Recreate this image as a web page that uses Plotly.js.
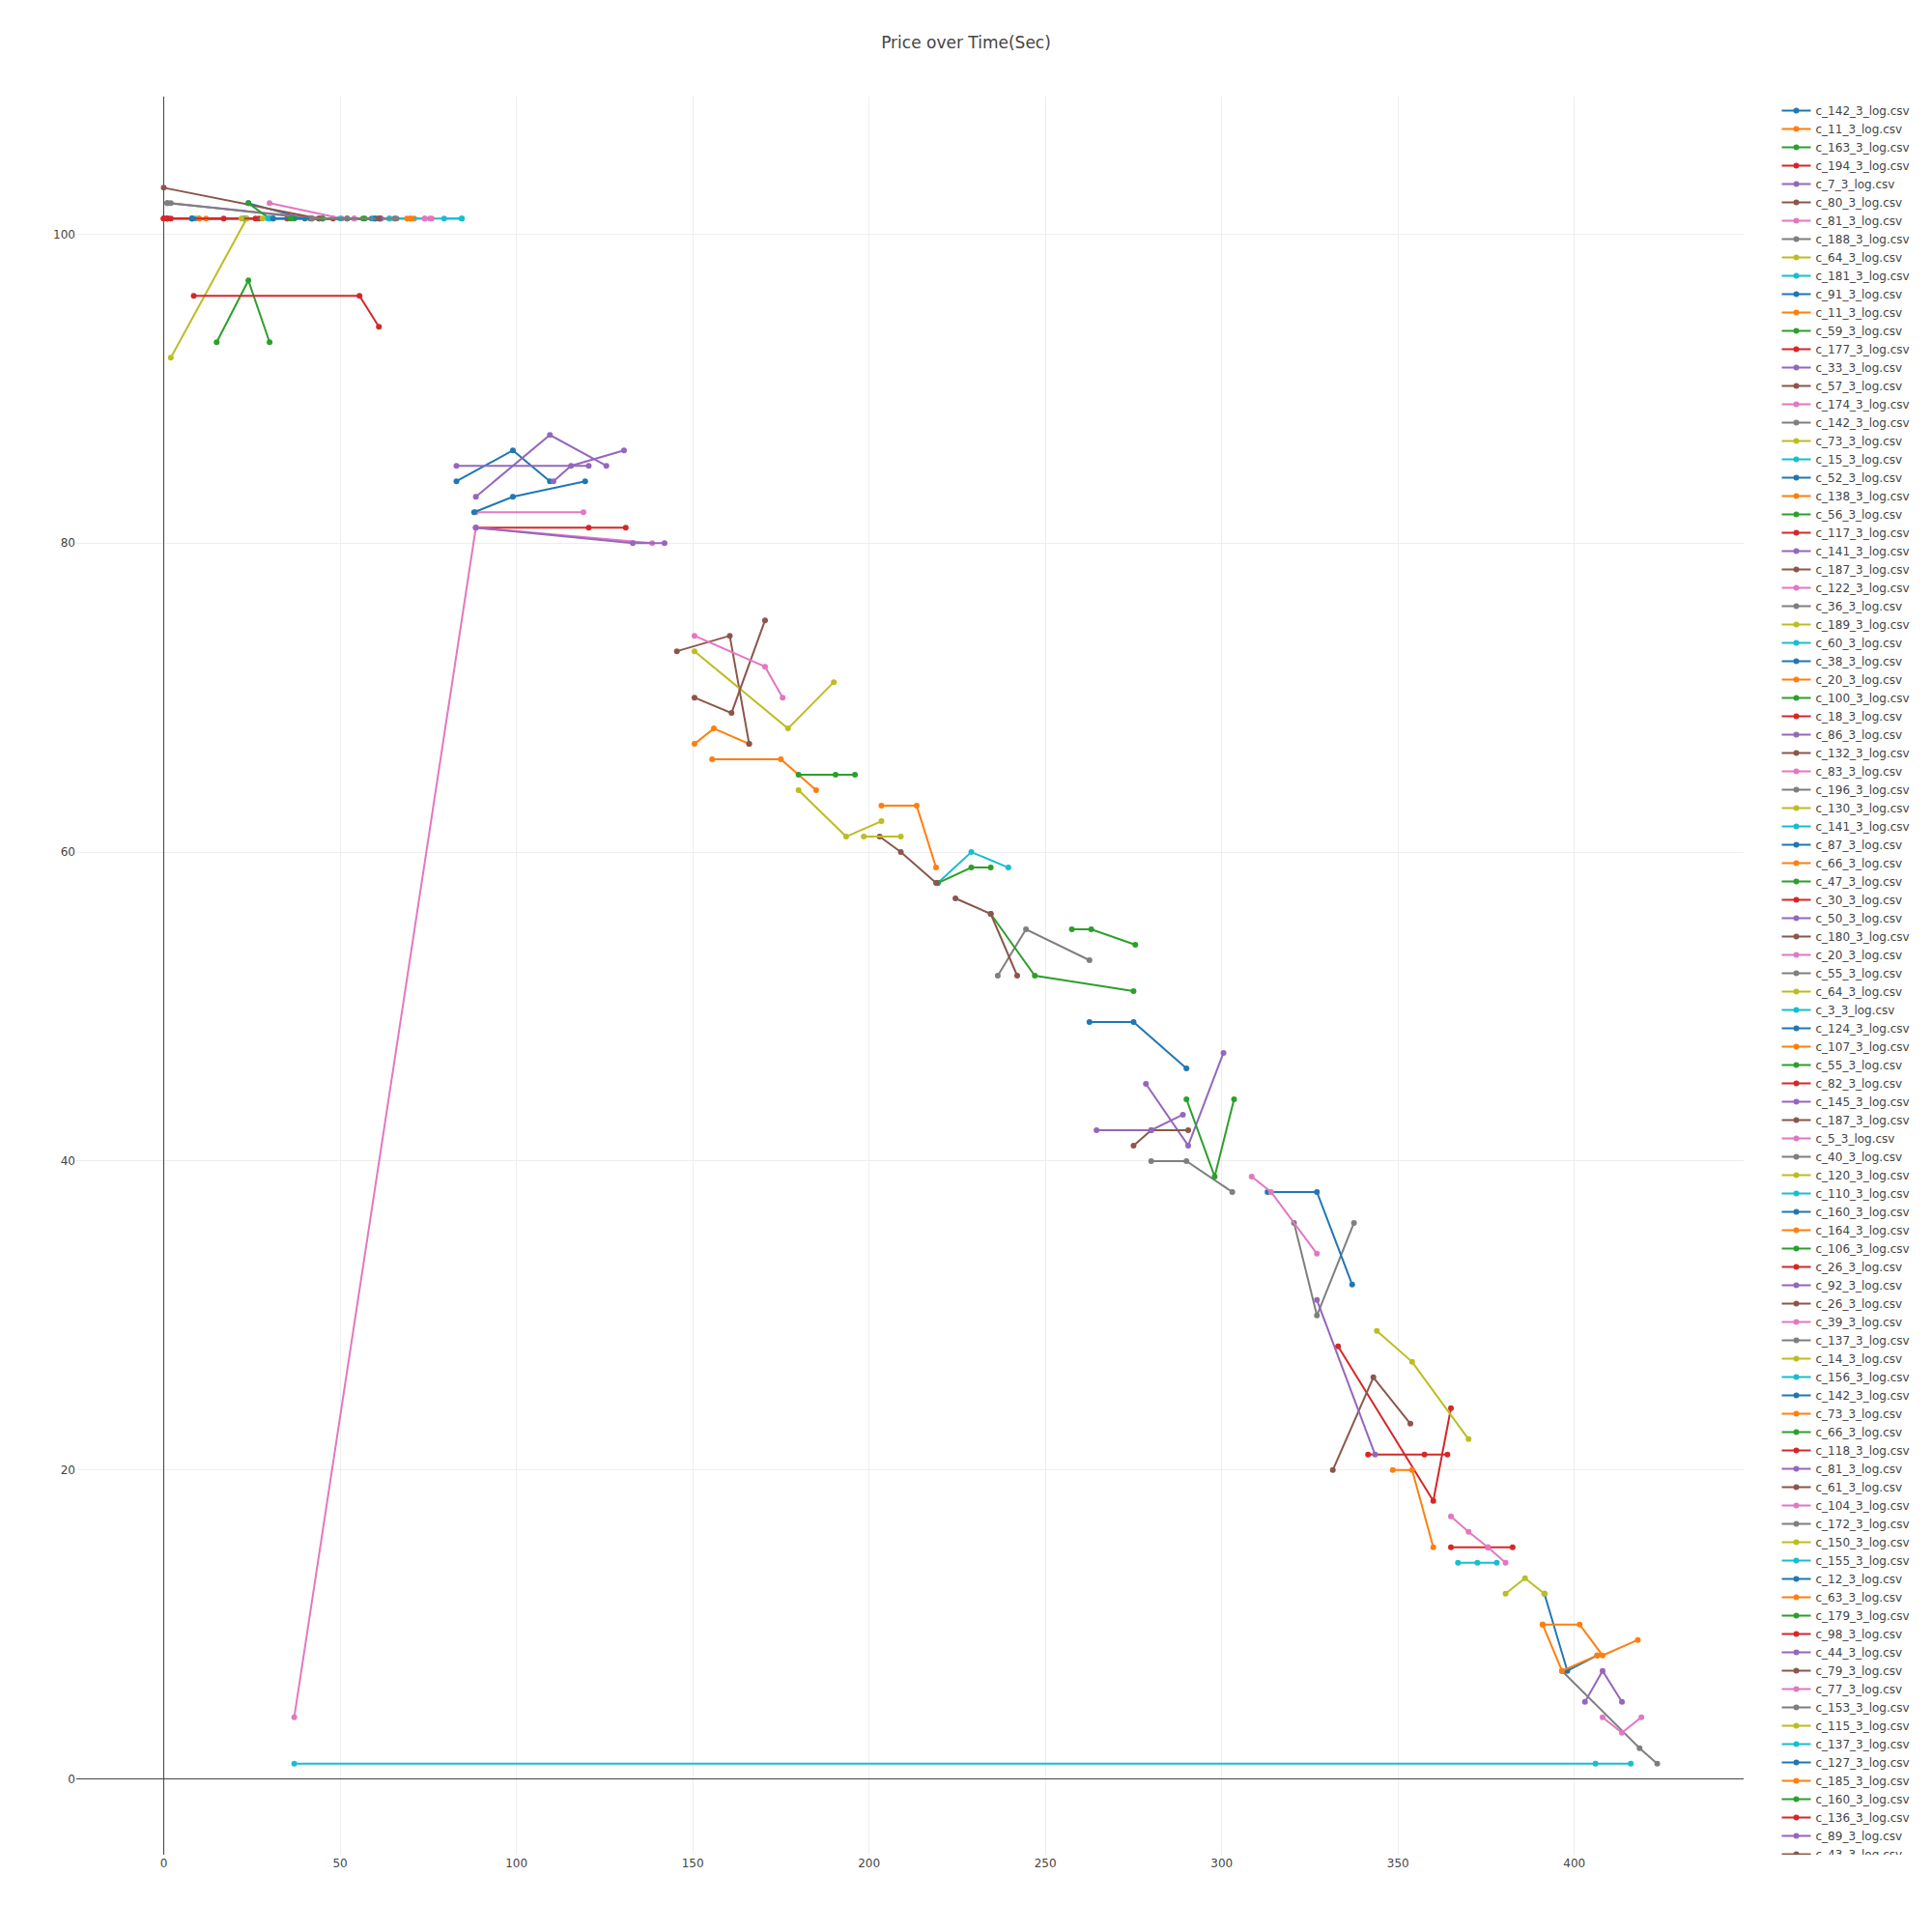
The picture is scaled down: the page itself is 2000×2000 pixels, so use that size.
<!DOCTYPE html>
<html>
<head>
<meta charset="utf-8">
<script src="https://cdn.plot.ly/plotly-3.0.1.min.js"></script>
<style>
  html, body { margin: 0; padding: 0; background: #fff; }
  #chart { width: 2000px; height: 2000px; }
  /* reference shows no legend scrollbar */
  .legend .scrollbar { opacity: 0; }
</style>
</head>
<body>
<div id="chart"></div>
<script>
'use strict';

// legend order, one file per trace
const traceNames = [
    'c_142', 'c_11', 'c_163', 'c_194', 'c_7', 'c_80', 'c_81', 'c_188', 'c_64', 'c_181',
    'c_91', 'c_11', 'c_59', 'c_177', 'c_33', 'c_57', 'c_174', 'c_142', 'c_73', 'c_15',
    'c_52', 'c_138', 'c_56', 'c_117', 'c_141', 'c_187', 'c_122', 'c_36', 'c_189', 'c_60',
    'c_38', 'c_20', 'c_100', 'c_18', 'c_86', 'c_132', 'c_83', 'c_196', 'c_130', 'c_141',
    'c_87', 'c_66', 'c_47', 'c_30', 'c_50', 'c_180', 'c_20', 'c_55', 'c_64', 'c_3',
    'c_124', 'c_107', 'c_55', 'c_82', 'c_145', 'c_187', 'c_5', 'c_40', 'c_120', 'c_110',
    'c_160', 'c_164', 'c_106', 'c_26', 'c_92', 'c_26', 'c_39', 'c_137', 'c_14', 'c_156',
    'c_142', 'c_73', 'c_66', 'c_118', 'c_81', 'c_61', 'c_104', 'c_172', 'c_150', 'c_155',
    'c_12', 'c_63', 'c_179', 'c_98', 'c_44', 'c_79', 'c_77', 'c_153', 'c_115', 'c_137',
    'c_127', 'c_185', 'c_160', 'c_136', 'c_89', 'c_43'
].map(n => n + '_3_log.csv');

// time (sec) per trace
const timeSec = [
    [24, 40, 59], [10, 70, 71], [15, 24, 30], [0, 2, 27, 35, 48], [1, 45, 61.5],
    [0, 44, 61.5], [30, 50.5, 54, 74, 75.5], [1, 2, 42, 52], [2, 23.5], [8, 23, 50, 64, 84.5],

    [83, 99, 109.5], [150.5, 156, 166], [24, 30, 37, 45], [8.5, 55.5, 61], [83, 120.5],
    [145.5, 160.5, 166], [88.5, 119], [236.5, 244.5, 262.5], [150.5, 177, 190], [37, 406, 416],

    [88, 99, 119.5], [155.5, 175, 185], [180, 190.5, 196], [88.5, 120.5, 131], [88.5, 109.5, 125.5],
    [150.5, 161, 170.5], [37, 88.5, 138.5], [280, 290, 303], [180, 193.5, 203.5], [219.5, 229, 239.5],

    [262.5, 275, 290], [203.5, 213.5, 219], [219.5, 229, 234.5], [333, 360, 365], [110.5, 115.5, 130.5],
    [203, 209, 219], [150.5, 170.5, 175.5], [320.5, 327, 337.5], [198.5, 209], [367, 372.5, 378],

    [313, 327, 337], [348.5, 354, 360], [234.5, 247, 275], [341.5, 357.5, 364], [88.5, 133, 142],
    [224.5, 234.5, 242], [308.5, 314, 327], [396.5, 418.5, 423.5], [344, 354, 370], [8, 9],

    [391.5, 398, 406.5], [391, 401.5, 408, 418], [257.5, 263, 275.5], [365, 375.5, 382.5], [278.5, 290.5, 300.5],
    [275, 280, 290.5], [365, 370, 375.5, 380.5], [41.5, 52], [380.5, 386, 391.5], [22.5, 23],

    [8, 31], [391, 396.5, 406.5], [290, 298, 303.5], [0, 1], [264.5, 280, 289],
    [331.5, 343, 353.5], [408, 413.5, 419], [52, 65.5], [23.5], [29.5, 30],

    [31, 60], [70], [56.5], [0, 17], [327, 343.5], [42, 61], [54], [65.5], [28], [59.5, 64],

    [60], [10, 12], [45, 57], [1, 26], [403, 408, 413.5], [44], [74, 76], [42, 66], [22], [79.5, 84.5],

    [8], [69], [36], [1], [61.5], [61]
];

// price per trace
const price = [
    [102, 101, 101], [101, 101, 101], [93, 97, 93], [101, 101, 101, 101, 101], [102, 101, 101],
    [103, 101, 101], [102, 101, 101, 101, 101], [102, 102, 101, 101], [92, 101], [101, 101, 101, 101, 101],

    [84, 86, 84], [67, 68, 67], [102, 101, 101, 101], [96, 96, 94], [85, 85],
    [73, 74, 67], [82, 82], [52, 55, 53], [73, 68, 71], [1, 1, 1],

    [82, 83, 84], [66, 66, 64], [65, 65, 65], [81, 81, 81], [83, 87, 85],
    [70, 69, 75], [4, 81, 80], [40, 40, 38], [64, 61, 62], [58, 60, 59],

    [49, 49, 46], [63, 63, 59], [58, 59, 59], [28, 18, 24], [84, 85, 86],
    [61, 60, 58], [74, 72, 70], [36, 30, 36], [61, 61], [14, 14, 14],

    [38, 38, 32], [20, 20, 15], [56, 52, 51], [21, 21, 21], [81, 80, 80],
    [57, 56, 52], [39, 38, 34], [7, 2, 1], [29, 27, 22], [101, 101],

    [12, 7, 8], [10, 10, 8, 9], [55, 55, 54], [15, 15, 15], [45, 41, 47],
    [41, 42, 42], [17, 16, 15, 14], [101, 101], [12, 13, 12], [101, 101],

    [101, 101], [10, 7, 8], [44, 39, 44], [101, 101], [42, 42, 43],
    [20, 26, 23], [4, 3, 4], [101, 101], [101], [101, 101],

    [101, 101], [101], [101], [101, 101], [31, 21], [101, 101], [101], [101], [101], [101, 101],

    [101], [101, 101], [101, 101], [101, 101], [5, 7, 5], [101], [101, 101], [101, 101], [101], [101, 101],

    [101], [101], [101], [101], [101], [101]
];

const traces = traceNames.map((name, i) => ({
    x: timeSec[i], y: price[i], name,
    type: 'scatter', mode: 'lines+markers',
    line: { width: 2 }, marker: { size: 6 }
}));

const layout = {
    width: 2000, height: 2000,
    font: { family: 'Verdana, "DejaVu Sans", sans-serif', size: 12, color: '#444' },
    title: { text: 'Price over Time(Sec)', font: { size: 17 } },
    margin: { l: 79, r: 195, t: 100, b: 80 },
    xaxis: { range: [-24.8, 448], dtick: 50 },
    yaxis: { range: [-4.9, 108.9], dtick: 20 },
    showlegend: true
};

Plotly.newPlot('chart', traces, layout, { displayModeBar: false });
</script>
</body>
</html>
